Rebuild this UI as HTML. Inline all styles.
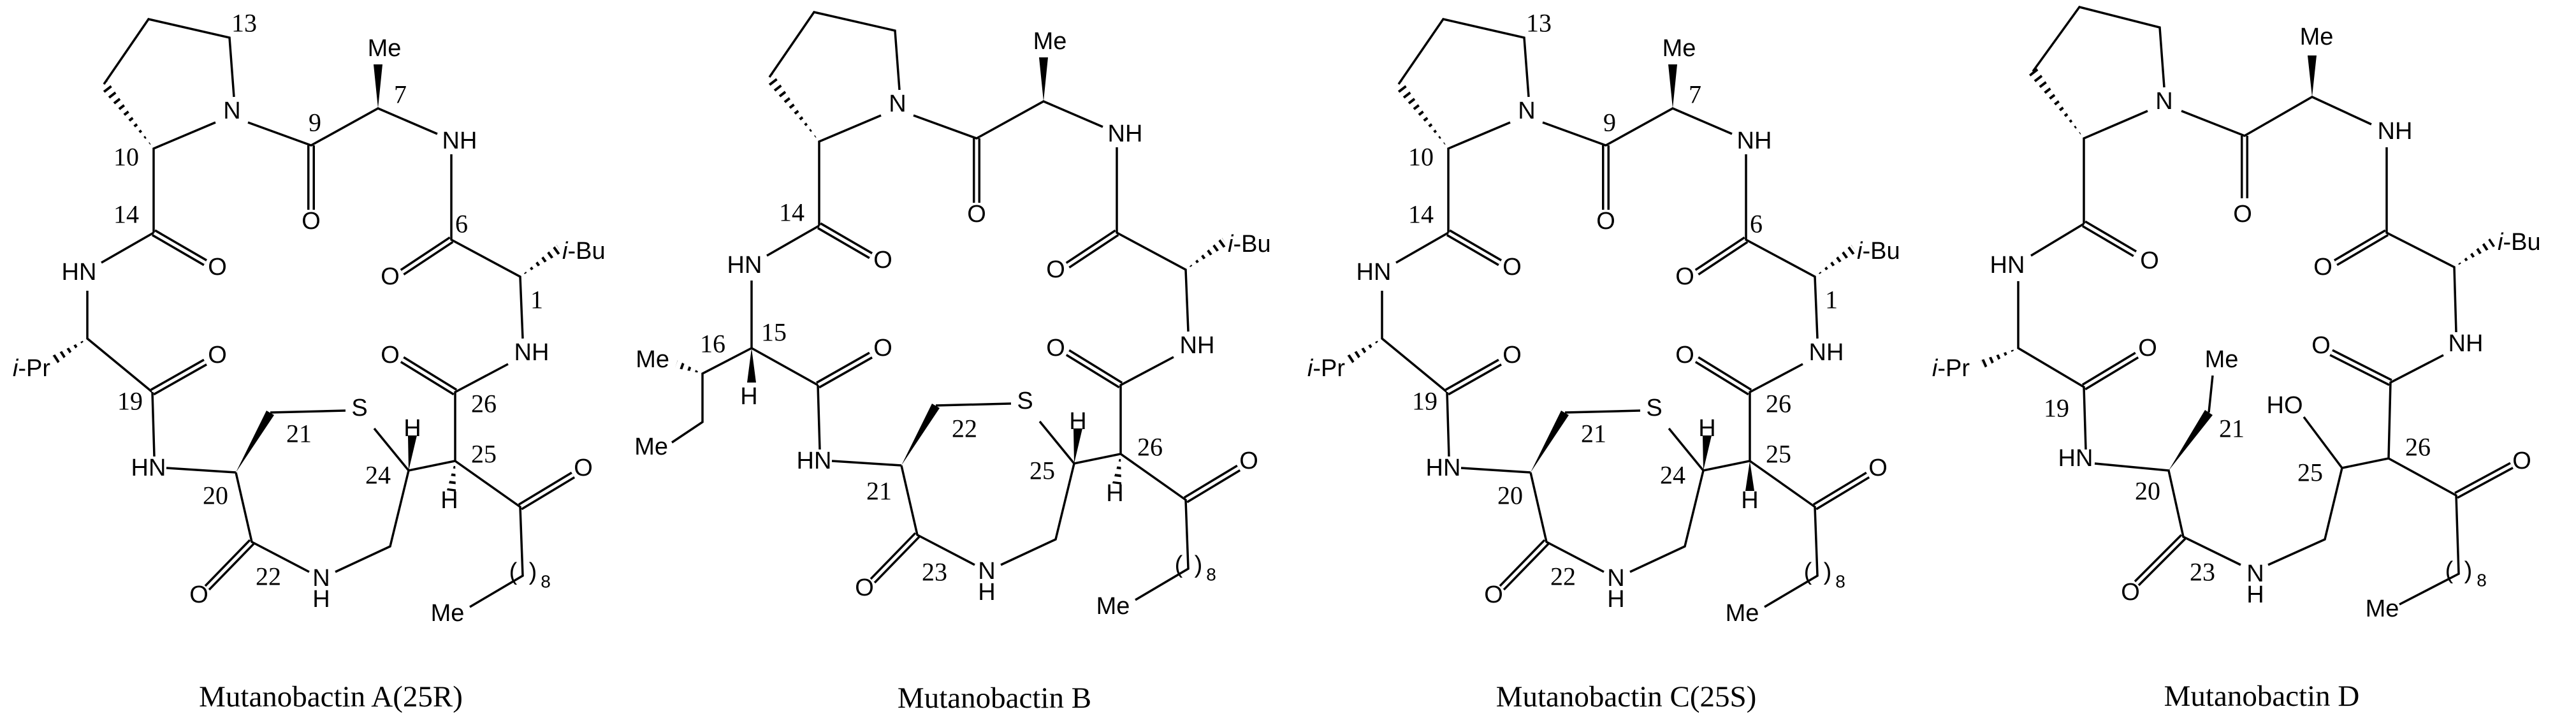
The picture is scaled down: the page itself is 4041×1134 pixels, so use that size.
<!DOCTYPE html>
<html><head><meta charset="utf-8"><style>
html,body{margin:0;padding:0;background:#fff}
svg{display:block}
.s{stroke:#000;stroke-width:3.5;fill:none}
.db{stroke:#000;stroke-width:12;fill:none}
.dw{stroke:#fff;stroke-width:5;fill:none}
.hw{stroke:#fff;stroke-width:24;stroke-dasharray:8 4;fill:none}
.a{font-family:"Liberation Sans",Arial,sans-serif;font-size:38px;text-anchor:middle;dominant-baseline:central}
.n{font-family:"Liberation Serif","Times New Roman",serif;font-size:40px;text-anchor:middle;dominant-baseline:central}
.c{font-family:"Liberation Serif","Times New Roman",serif;font-size:47px;text-anchor:middle;dominant-baseline:central}
.sub{font-family:"Liberation Sans",Arial,sans-serif;font-size:28px;text-anchor:middle;dominant-baseline:central}
</style></head><body>
<svg width="4041" height="1134" viewBox="0 0 4041 1134" xmlns="http://www.w3.org/2000/svg">
<defs>
<g id="core">
 <polygon points="241,233 157,137 169,127"/><line class="hw" x1="241" y1="233" x2="163" y2="132"/>
 <polygon points="816,434 873,384 881,396"/><line class="hw" x1="816" y1="434" x2="877" y2="390"/>
 <line class="db" x1="488" y1="228" x2="488" y2="329"/><line class="dw" x1="488" y1="228" x2="488" y2="329"/>
 <line class="db" x1="241" y1="365" x2="322" y2="412"/><line class="dw" x1="241" y1="365" x2="322" y2="412"/>
 <line class="db" x1="708" y1="376" x2="631" y2="427"/><line class="dw" x1="708" y1="376" x2="631" y2="427"/>
 <line class="db" x1="714" y1="615" x2="631" y2="564"/><line class="dw" x1="714" y1="615" x2="631" y2="564"/>
 <line class="db" x1="239" y1="615" x2="322" y2="568"/><line class="dw" x1="239" y1="615" x2="322" y2="568"/>
 <line class="db" x1="395" y1="850" x2="325" y2="922"/><line class="dw" x1="395" y1="850" x2="325" y2="922"/>
 <line class="db" x1="816" y1="795" x2="899" y2="745"/><line class="dw" x1="816" y1="795" x2="899" y2="745"/>
 <path class="s" d="M163,132 L233,30 L360,59 L367,152 M338,192 L241,233 L241,365 M389,192 L488,228 L593,170 L686,210 M708,242 L708,376 L816,434 L820,531 M797,571 L714,615 L714,723 L641,738 L587,672 M542,644 L424,647 M370,741 L261,734 M242,716 L239,615 M159,412 L241,365 M370,741 L395,850 L485,897 M526,897 L612,857 L641,738 M714,723 L816,795 L820,903 L737,952"/>
 <polygon points="593,170 586,101 600,101"/>
 <polygon points="641,738 640,683 654,683"/>
 <polygon points="370,741 418,644 430,651"/>
</g>
<g id="capr">
 <polygon points="137,531 90,570 82,558"/><line class="hw" x1="137" y1="531" x2="86" y2="564"/>
 <path class="s" d="M239,615 L137,531 L137,456"/>
</g>
</defs>

<!-- ============ A ============ -->
<g>
 <polygon points="714,723 701,769 715,771"/><line class="hw" x1="714" y1="723" x2="708" y2="770"/>
 <use href="#capr"/>
 <use href="#core"/>
</g>
<g>
 <text class="a" x="364" y="174">N</text>
 <text class="a" x="488" y="347">O</text>
 <text class="a" x="603" y="76">Me</text>
 <text class="a" x="721" y="221">NH</text>
 <text class="a" x="612" y="434">O</text>
 <text class="a" x="882" y="394" style="text-anchor:start"><tspan font-style="italic">i</tspan>-Bu</text>
 <text class="a" x="834" y="553">NH</text>
 <text class="a" x="612" y="557">O</text>
 <text class="a" x="705" y="785">H</text>
 <text class="a" x="647" y="672">H</text>
 <text class="a" x="564" y="640">S</text>
 <text class="a" x="233" y="734">HN</text>
 <text class="a" x="341" y="557">O</text>
 <text class="a" x="79" y="578" style="text-anchor:end"><tspan font-style="italic">i</tspan>-Pr</text>
 <text class="a" x="124" y="427">HN</text>
 <text class="a" x="341" y="419">O</text>
 <text class="a" x="312" y="933">O</text>
 <text class="a" x="504" y="907">N</text>
 <text class="a" x="504" y="940">H</text>
 <text class="a" x="915" y="734">O</text>
 <text class="a" x="702" y="962">Me</text>
 <text class="a" x="805" y="897">(</text><text class="a" x="836" y="897">)</text><text class="sub" x="856" y="912">8</text>
 <text class="n" x="383" y="36">13</text><text class="n" x="628" y="148">7</text><text class="n" x="494" y="192">9</text>
 <text class="n" x="198" y="246">10</text><text class="n" x="198" y="336">14</text><text class="n" x="724" y="351">6</text>
 <text class="n" x="842" y="470">1</text><text class="n" x="759" y="633">26</text><text class="n" x="759" y="712">25</text>
 <text class="n" x="593" y="745">24</text><text class="n" x="469" y="680">21</text><text class="n" x="338" y="777">20</text>
 <text class="n" x="204" y="629">19</text><text class="n" x="421" y="904">22</text>
 <text class="c" x="519" y="1093">Mutanobactin A(25R)</text>
</g>

<!-- ============ B ============ -->
<g transform="translate(1044,-11)">
 <polygon points="714,723 701,769 715,771"/><line class="hw" x1="714" y1="723" x2="708" y2="770"/>
 <use href="#core"/>
 <text class="a" x="364" y="174">N</text>
 <text class="a" x="488" y="347">O</text>
 <text class="a" x="603" y="76">Me</text>
 <text class="a" x="721" y="221">NH</text>
 <text class="a" x="612" y="434">O</text>
 <text class="a" x="882" y="394" style="text-anchor:start"><tspan font-style="italic">i</tspan>-Bu</text>
 <text class="a" x="834" y="553">NH</text>
 <text class="a" x="612" y="557">O</text>
 <text class="a" x="705" y="785">H</text>
 <text class="a" x="647" y="672">H</text>
 <text class="a" x="564" y="640">S</text>
 <text class="a" x="233" y="734">HN</text>
 <text class="a" x="341" y="557">O</text>
 <text class="a" x="124" y="427">HN</text>
 <text class="a" x="341" y="419">O</text>
 <text class="a" x="312" y="933">O</text>
 <text class="a" x="504" y="907">N</text>
 <text class="a" x="504" y="940">H</text>
 <text class="a" x="915" y="734">O</text>
 <text class="a" x="702" y="962">Me</text>
 <text class="a" x="805" y="897">(</text><text class="a" x="836" y="897">)</text><text class="sub" x="856" y="912">8</text>
</g>
<g>
 <polygon points="1102,586 1059,577 1063,565"/><line class="hw" x1="1102" y1="586" x2="1061" y2="571"/>
 <path class="s" d="M1283,604 L1179,546 L1179,440 M1179,546 L1102,586 L1102,662 L1054,694"/>
 <polygon points="1179,546 1172,600 1186,600"/>
 <text class="a" x="1175" y="622">H</text>
 <text class="a" x="1050" y="564" style="text-anchor:end">Me</text>
 <text class="a" x="1048" y="701" style="text-anchor:end">Me</text>
 <text class="n" x="1118" y="539">16</text><text class="n" x="1214" y="521">15</text><text class="n" x="1242" y="333">14</text>
 <text class="n" x="1513" y="672">22</text><text class="n" x="1379" y="770">21</text><text class="n" x="1635" y="738">25</text>
 <text class="n" x="1804" y="701">26</text><text class="n" x="1466" y="897">23</text>
 <text class="c" x="1560" y="1095">Mutanobactin B</text>
</g>

<!-- ============ C ============ -->
<g transform="translate(2031,0)">
 <use href="#capr"/>
 <use href="#core"/>
 <polygon points="714,723 707,770 721,770"/>
 <text class="a" x="364" y="174">N</text>
 <text class="a" x="488" y="347">O</text>
 <text class="a" x="603" y="76">Me</text>
 <text class="a" x="721" y="221">NH</text>
 <text class="a" x="612" y="434">O</text>
 <text class="a" x="882" y="394" style="text-anchor:start"><tspan font-style="italic">i</tspan>-Bu</text>
 <text class="a" x="834" y="553">NH</text>
 <text class="a" x="612" y="557">O</text>
 <text class="a" x="714" y="785">H</text>
 <text class="a" x="647" y="672">H</text>
 <text class="a" x="564" y="640">S</text>
 <text class="a" x="233" y="734">HN</text>
 <text class="a" x="341" y="557">O</text>
 <text class="a" x="79" y="578" style="text-anchor:end"><tspan font-style="italic">i</tspan>-Pr</text>
 <text class="a" x="124" y="427">HN</text>
 <text class="a" x="341" y="419">O</text>
 <text class="a" x="312" y="933">O</text>
 <text class="a" x="504" y="907">N</text>
 <text class="a" x="504" y="940">H</text>
 <text class="a" x="915" y="734">O</text>
 <text class="a" x="702" y="962">Me</text>
 <text class="a" x="805" y="897">(</text><text class="a" x="836" y="897">)</text><text class="sub" x="856" y="912">8</text>
 <text class="n" x="383" y="36">13</text><text class="n" x="628" y="148">7</text><text class="n" x="494" y="192">9</text>
 <text class="n" x="198" y="246">10</text><text class="n" x="198" y="336">14</text><text class="n" x="724" y="351">6</text>
 <text class="n" x="842" y="470">1</text><text class="n" x="759" y="633">26</text><text class="n" x="759" y="712">25</text>
 <text class="n" x="593" y="745">24</text><text class="n" x="469" y="680">21</text><text class="n" x="338" y="777">20</text>
 <text class="n" x="204" y="629">19</text><text class="n" x="421" y="904">22</text>
 <text class="c" x="520" y="1093">Mutanobactin C(25S)</text>
</g>

<!-- ============ D ============ -->
<g>
 <polygon points="3269,217 3195,107 3183,117"/><line class="hw" x1="3269" y1="217" x2="3189" y2="112"/>
 <polygon points="3850,419 3906,374 3914,386"/><line class="hw" x1="3850" y1="419" x2="3910" y2="380"/>
 <polygon points="3166,546 3113,577 3107,565"/><line class="hw" x1="3166" y1="546" x2="3110" y2="571"/>
 <line class="db" x1="3521" y1="213" x2="3521" y2="311"/><line class="dw" x1="3521" y1="213" x2="3521" y2="311"/>
 <line class="db" x1="3269" y1="351" x2="3349" y2="398"/><line class="dw" x1="3269" y1="351" x2="3349" y2="398"/>
 <line class="db" x1="3744" y1="365" x2="3664" y2="412"/><line class="dw" x1="3744" y1="365" x2="3664" y2="412"/>
 <line class="db" x1="3750" y1="600" x2="3657" y2="553"/><line class="dw" x1="3750" y1="600" x2="3657" y2="553"/>
 <line class="db" x1="3269" y1="607" x2="3352" y2="557"/><line class="dw" x1="3269" y1="607" x2="3352" y2="557"/>
 <line class="db" x1="3425" y1="842" x2="3352" y2="915"/><line class="dw" x1="3425" y1="842" x2="3352" y2="915"/>
 <line class="db" x1="3853" y1="777" x2="3940" y2="730"/><line class="dw" x1="3853" y1="777" x2="3940" y2="730"/>
 <path class="s" d="M3189,112 L3262,11 L3388,43 L3395,137 M3369,174 L3269,217 L3269,351 M3422,174 L3521,213 L3627,152 L3720,195 M3744,231 L3744,365 L3850,419 L3853,521 M3833,557 L3750,600 L3747,719 L3674,734 L3614,654 M3674,734 L3647,846 L3558,886 M3515,886 L3425,842 L3402,738 L3286,727 M3272,705 L3269,607 L3166,546 L3166,441 M3186,401 L3269,351 M3465,647 L3471,589 M3747,719 L3853,777 L3857,900 L3764,948"/>
 <polygon points="3627,152 3620,87 3634,87"/>
 <polygon points="3402,738 3459,643 3471,651"/>
 <text class="a" x="3395" y="159">N</text>
 <text class="a" x="3518" y="336">O</text>
 <text class="a" x="3634" y="58">Me</text>
 <text class="a" x="3757" y="206">NH</text>
 <text class="a" x="3644" y="419">O</text>
 <text class="a" x="3918" y="380" style="text-anchor:start"><tspan font-style="italic">i</tspan>-Bu</text>
 <text class="a" x="3868" y="539">NH</text>
 <text class="a" x="3641" y="542">O</text>
 <text class="a" x="3584" y="636">HO</text>
 <text class="a" x="3538" y="900">N</text>
 <text class="a" x="3538" y="933">H</text>
 <text class="a" x="3342" y="929">O</text>
 <text class="a" x="3256" y="719">HN</text>
 <text class="a" x="3369" y="546">O</text>
 <text class="a" x="3090" y="578" style="text-anchor:end"><tspan font-style="italic">i</tspan>-Pr</text>
 <text class="a" x="3149" y="416">HN</text>
 <text class="a" x="3372" y="409">O</text>
 <text class="a" x="3485" y="564">Me</text>
 <text class="a" x="3956" y="723">O</text>
 <text class="a" x="3737" y="955">Me</text>
 <text class="a" x="3842" y="895">(</text><text class="a" x="3872" y="895">)</text><text class="sub" x="3893" y="910">8</text>
 <text class="n" x="3793" y="701">26</text><text class="n" x="3624" y="741">25</text><text class="n" x="3455" y="897">23</text>
 <text class="n" x="3369" y="770">20</text><text class="n" x="3226" y="640">19</text><text class="n" x="3501" y="672">21</text>
 <text class="c" x="3548" y="1092">Mutanobactin D</text>
</g>
</svg>
</body></html>
